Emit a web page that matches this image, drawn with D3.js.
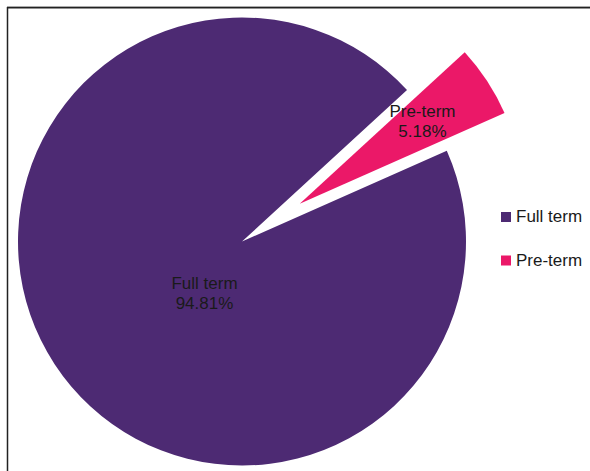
<!DOCTYPE html>
<html><head><meta charset="utf-8">
<script src="https://cdn.jsdelivr.net/npm/d3@7/dist/d3.min.js"></script>
<style>html,body{margin:0;padding:0;background:#fff;}svg{display:block;}</style>
</head><body>
<script>
const categories = ["Full term", "Pre-term"];
const values = [94.81, 5.18];
const labels = ["94.81%", "5.18%"];
const colors = ["#4d2a73", "#eb1868"];

const W = 590, H = 471;
const svg = d3.select("body").append("svg").attr("width", W).attr("height", H);

// frame
svg.append("line").attr("x1", 7).attr("x2", W).attr("y1", 6.5).attr("y2", 6.5).attr("stroke", "#aaa").attr("stroke-width", 1);
svg.append("path").attr("d", `M7.5,${H} V7.8 H${W}`).attr("fill", "none").attr("stroke", "#222").attr("stroke-width", 1.5);

const cx = 242, cy = 241.5, R = 224;
const startDeg = 66.1;
const pie = d3.pie().sort(null).value(d => d)
  .startAngle(startDeg * Math.PI / 180)
  .endAngle((startDeg + 360) * Math.PI / 180);
const arcs = pie(values);
const arc = d3.arc().innerRadius(0).outerRadius(R);
const explode = [0, 69];
const labelArc = d3.arc().innerRadius(R * 0.655).outerRadius(R * 0.655);

const g = svg.append("g").attr("transform", `translate(${cx},${cy})`);
arcs.forEach((a, i) => {
  const mid = (a.startAngle + a.endAngle) / 2;
  const [ox, oy] = d3.pointRadial(mid, explode[i]);
  const sg = g.append("g").attr("transform", `translate(${ox},${oy})`);
  sg.append("path").attr("d", arc(a)).attr("fill", colors[i]);
  let lx, ly;
  if (i === 0) {
    // large slice label placed nearer the centre
    [lx, ly] = d3.pointRadial(216 * Math.PI / 180, R * 0.285);
  } else {
    [lx, ly] = labelArc.centroid(a);
    ly -= 2.5;
  }
  const t = sg.append("text").attr("text-anchor", "middle")
    .attr("font-family", "Liberation Sans, Arial, sans-serif").attr("font-size", 17).attr("fill", "#1a1a1a");
  t.append("tspan").attr("x", lx).attr("y", ly - 4).text(categories[i]);
  t.append("tspan").attr("x", lx).attr("y", ly + 16).text(labels[i]);
});

// legend
const lg = svg.append("g");
categories.forEach((c, i) => {
  const y = 212 + i * 43.5;
  lg.append("rect").attr("x", 501).attr("y", y).attr("width", 10).attr("height", 10).attr("fill", colors[i]);
  lg.append("text").attr("x", 516).attr("y", y + 10).attr("font-family", "Liberation Sans, Arial, sans-serif")
    .attr("font-size", 17).attr("fill", "#1a1a1a").text(c);
});
</script>
</body></html>
